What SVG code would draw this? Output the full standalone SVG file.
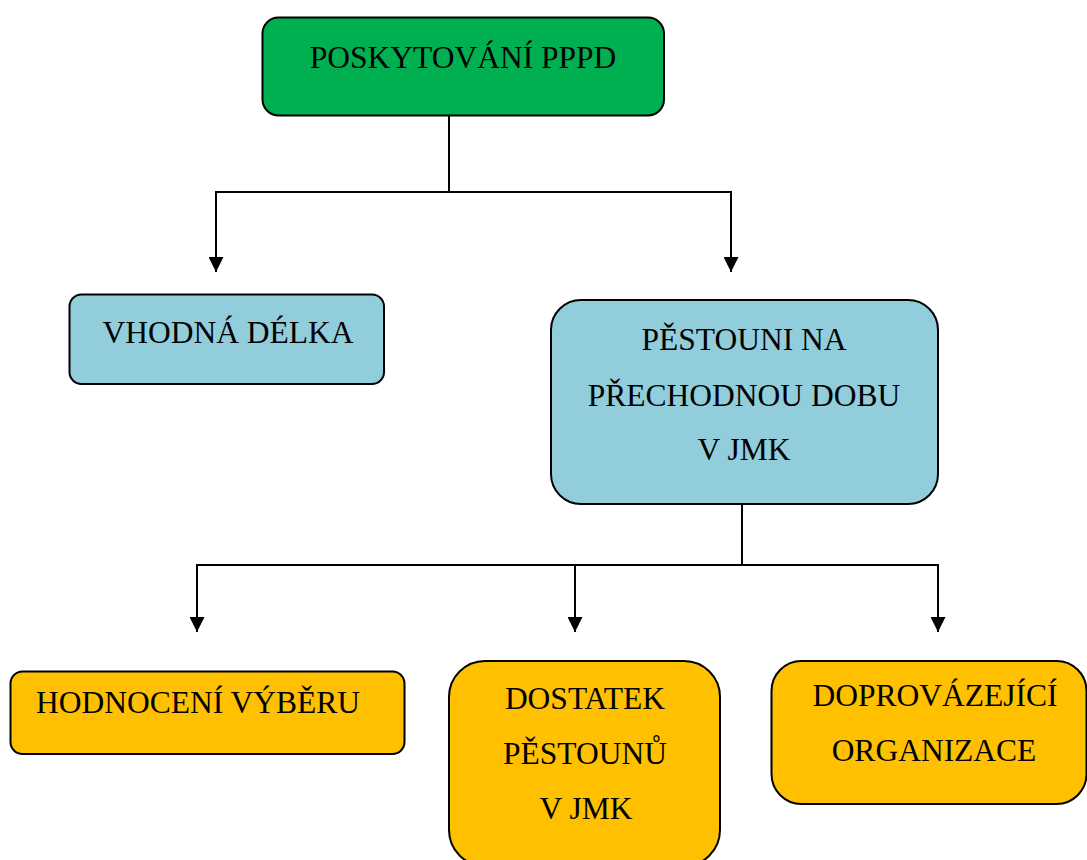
<svg xmlns="http://www.w3.org/2000/svg" width="1087" height="860" viewBox="0 0 1087 860">
<style>
.box{stroke:#000;stroke-width:2}
.green{fill:#00B050}
.blue{fill:#92CDDC}
.orange{fill:#FFC000}
.t{font-family:"Liberation Serif","Times New Roman",serif;font-size:31.5px;fill:#000;text-anchor:middle}
.c{stroke:#000;stroke-width:2;fill:none}
</style>
<defs>
<marker id="arr" markerWidth="15" markerHeight="15" refX="15" refY="7.5" orient="auto" markerUnits="userSpaceOnUse">
<path d="M0,0 L15,7.5 L0,15 Z" fill="#000"/>
</marker>
</defs>
<rect width="1087" height="860" fill="#fff"/>
<g id="connectors">
<path class="c" d="M449,116 V192"/>
<path class="c" d="M216,192 H731"/>
<path class="c" d="M216,191 V272" marker-end="url(#arr)"/>
<path class="c" d="M731,191 V272" marker-end="url(#arr)"/>
<path class="c" d="M742,504 V565"/>
<path class="c" d="M197,565 H938"/>
<path class="c" d="M197,564 V632" marker-end="url(#arr)"/>
<path class="c" d="M575,564 V632" marker-end="url(#arr)"/>
<path class="c" d="M938,564 V632" marker-end="url(#arr)"/>
</g>
<g id="n-poskytovani">
<rect class="box green" x="262.5" y="17.5" width="401.5" height="98" rx="16"/>
<text class="t" x="463" y="68">POSKYTOVÁNÍ PPPD</text>
</g>
<g id="n-vhodna">
<rect class="box blue" x="69.5" y="294.5" width="314.5" height="89.5" rx="12"/>
<text class="t" x="228" y="343">VHODNÁ DÉLKA</text>
</g>
<g id="n-pestouni">
<rect class="box blue" x="551" y="300" width="387" height="204" rx="30"/>
<text class="t" x="744" y="350">PĚSTOUNI NA</text>
<text class="t" x="744" y="406">PŘECHODNOU DOBU</text>
<text class="t" x="744" y="460">V JMK</text>
</g>
<g id="n-hodnoceni">
<rect class="box orange" x="10.5" y="671.5" width="394" height="82.5" rx="12"/>
<text class="t" x="198" y="713">HODNOCENÍ VÝBĚRU</text>
</g>
<g id="n-dostatek">
<rect class="box orange" x="449" y="661" width="271" height="205" rx="36"/>
<text class="t" x="585" y="709">DOSTATEK</text>
<text class="t" x="585" y="764">PĚSTOUNŮ</text>
<text class="t" x="586" y="819">V JMK</text>
</g>
<g id="n-doprovazejici">
<rect class="box orange" x="771.5" y="661" width="315" height="143" rx="30"/>
<text class="t" x="935" y="706">DOPROVÁZEJÍCÍ</text>
<text class="t" x="934" y="761">ORGANIZACE</text>
</g>
</svg>
